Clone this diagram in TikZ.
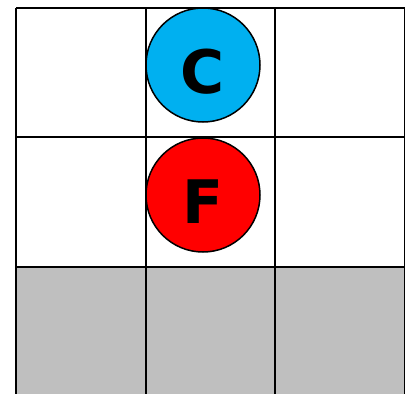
\documentclass[tikz,border=0pt]{standalone}
\usepackage{fontspec}
\setmainfont{DejaVu Sans}
\definecolor{ccyan}{HTML}{00B0F0}
\definecolor{cgray}{HTML}{BFBFBF}
\begin{document}
\begin{tikzpicture}[x=1pt,y=-1pt,
  gridline/.style={line width=1.8pt,black},
  token/.style={circle,draw=black,line width=1.5pt,minimum size=114pt,inner sep=0pt,text height=56pt,text depth=0pt,font=\fontsize{60}{60}\selectfont\bfseries}]
\useasboundingbox (0,0) rectangle (408,394);
\fill[white] (0,0) rectangle (408,394);
\fill[cgray] (16,267) rectangle (404.5,400);
\foreach \x in {16,146,275,404.5} \draw[gridline] (\x,8) -- (\x,400);
\foreach \y in {8,137,267} \draw[gridline] (16,\y) -- (404.5,\y);
\node[token,fill=ccyan] (c) at (203,65) {C};
\node[token,fill=red] (f) at (203,195) {F};
\end{tikzpicture}
\end{document}
